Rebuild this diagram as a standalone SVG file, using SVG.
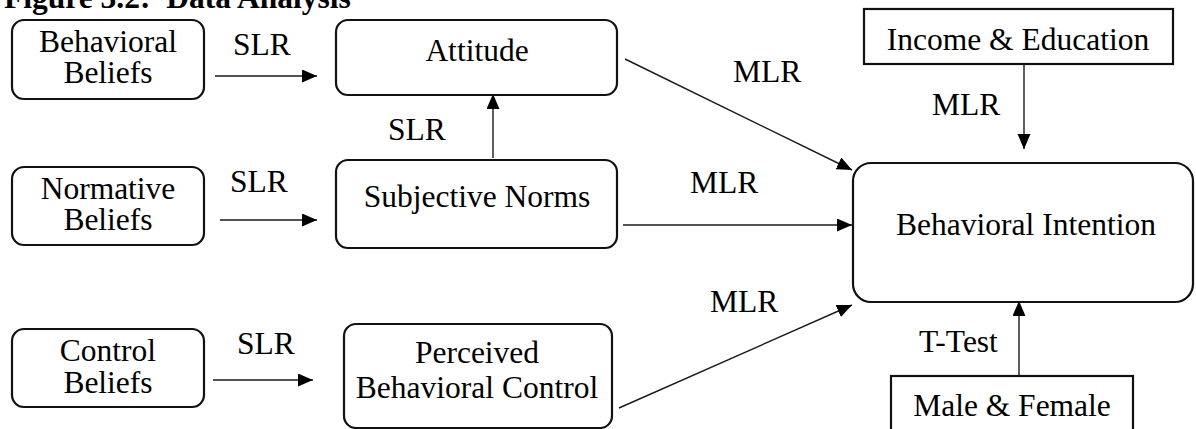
<svg xmlns="http://www.w3.org/2000/svg" width="1196" height="429" viewBox="0 0 1196 429" font-family="Liberation Serif, 'Times New Roman', serif" font-size="31.5">
  <style>
    .title { font-weight: bold; white-space: pre; }
    .c { text-anchor: middle; }
    .box { fill: #fff; stroke: #111; stroke-width: 2.2; }
    .edge { fill: none; stroke: #1a1a1a; stroke-width: 1.4; }
  </style>
  <defs>
    <marker id="arrow" markerUnits="userSpaceOnUse" markerWidth="16" markerHeight="14" refX="15" refY="6.5" orient="auto">
      <path d="M0,0 L15,6.5 L0,13 Z" fill="#000"/>
    </marker>
  </defs>

  <rect width="1196" height="429" fill="#fff"/>

  <text class="title" x="4" y="8" xml:space="preserve">Figure 3.2:  Data Analysis</text>

  <!-- connectors -->
  <g id="connectors">
    <line class="edge" x1="215" y1="76" x2="317" y2="76" marker-end="url(#arrow)"/>
    <line class="edge" x1="220" y1="220" x2="317" y2="220" marker-end="url(#arrow)"/>
    <line class="edge" x1="213" y1="380" x2="313" y2="380" marker-end="url(#arrow)"/>
    <line class="edge" x1="493" y1="158" x2="493" y2="94" marker-end="url(#arrow)"/>
    <line class="edge" x1="625" y1="59" x2="852" y2="170" marker-end="url(#arrow)"/>
    <line class="edge" x1="623" y1="225" x2="852" y2="225" marker-end="url(#arrow)"/>
    <line class="edge" x1="619" y1="408" x2="852" y2="305" marker-end="url(#arrow)"/>
    <line class="edge" x1="1024" y1="64" x2="1024" y2="149" marker-end="url(#arrow)"/>
    <line class="edge" x1="1019" y1="376" x2="1019" y2="301" marker-end="url(#arrow)"/>

    <!-- edge labels -->
    <text x="233" y="55">SLR</text>
    <text x="230" y="192">SLR</text>
    <text x="237" y="354">SLR</text>
    <text x="388" y="140">SLR</text>
    <text x="733" y="82">MLR</text>
    <text x="690" y="193">MLR</text>
    <text x="710" y="312">MLR</text>
    <text x="932" y="115">MLR</text>
    <text x="919" y="352">T-Test</text>
  </g>

  <g id="behavioral-beliefs">
    <rect class="box" x="12" y="20" width="192" height="79" rx="12"/>
    <text class="c" x="108" y="52">Behavioral</text>
    <text class="c" x="108" y="83">Beliefs</text>
  </g>

  <g id="normative-beliefs">
    <rect class="box" x="12" y="167" width="192" height="78" rx="12"/>
    <text class="c" x="108" y="199">Normative</text>
    <text class="c" x="108" y="230">Beliefs</text>
  </g>

  <g id="control-beliefs">
    <rect class="box" x="12" y="329" width="192" height="78" rx="12"/>
    <text class="c" x="108" y="361">Control</text>
    <text class="c" x="108" y="393">Beliefs</text>
  </g>

  <g id="attitude">
    <rect class="box" x="336" y="20" width="281" height="75" rx="12"/>
    <text class="c" x="477" y="61">Attitude</text>
  </g>

  <g id="subjective-norms">
    <rect class="box" x="336" y="160" width="281" height="88" rx="12"/>
    <text class="c" x="477" y="207">Subjective Norms</text>
  </g>

  <g id="perceived-behavioral-control">
    <rect class="box" x="344" y="324" width="268" height="104" rx="12"/>
    <text class="c" x="477" y="363">Perceived</text>
    <text class="c" x="477" y="398">Behavioral Control</text>
  </g>

  <g id="income-education">
    <rect class="box" x="864" y="9" width="309" height="55"/>
    <text class="c" x="1018" y="50">Income &amp; Education</text>
  </g>

  <g id="behavioral-intention">
    <rect class="box" x="853" y="163" width="340" height="139" rx="18"/>
    <text class="c" x="1026" y="235">Behavioral Intention</text>
  </g>

  <g id="male-female">
    <rect class="box" x="891" y="376" width="242" height="60"/>
    <text class="c" x="1012" y="416">Male &amp; Female</text>
  </g>
</svg>
